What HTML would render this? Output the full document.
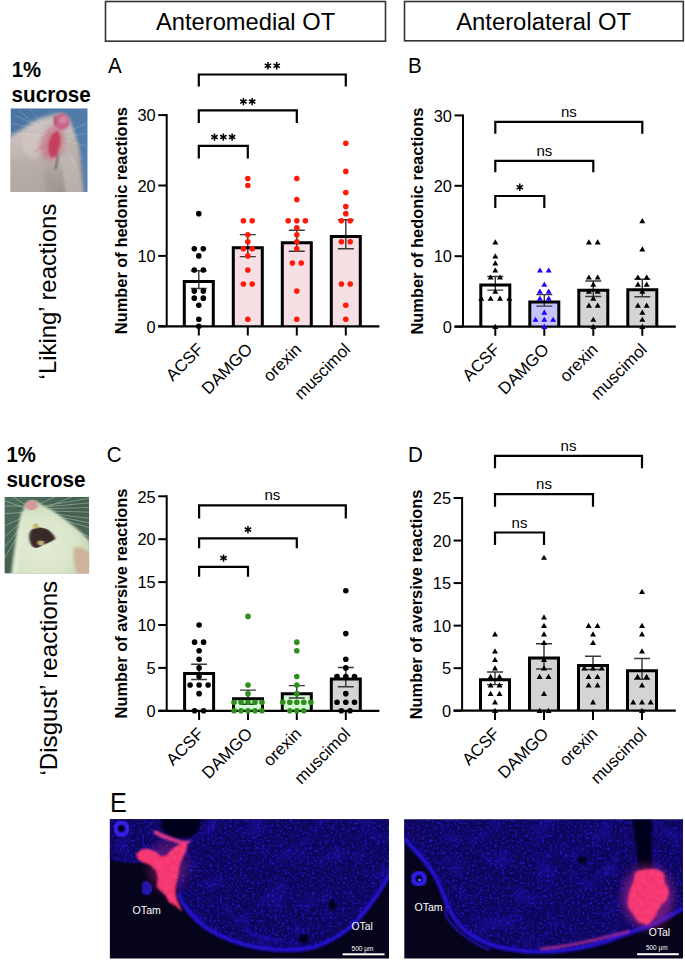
<!DOCTYPE html>
<html><head><meta charset="utf-8"><style>
html,body{margin:0;padding:0;background:#fff;}
body{width:685px;height:960px;overflow:hidden;position:relative;font-family:'Liberation Sans', sans-serif;}
svg{position:absolute;left:0;top:0;}
</style></head><body>
<svg width="685" height="960" viewBox="0 0 685 960" font-family="'Liberation Sans', sans-serif">
<rect width="685" height="960" fill="#fff"/>

<rect x="105.5" y="1.5" width="280" height="39.7" fill="#fff" stroke="#333" stroke-width="1.6"/>
<text x="245.6" y="30" font-size="23.7" text-anchor="middle" fill="#000">Anteromedial OT</text>
<rect x="404.5" y="1.5" width="278.8" height="39.3" fill="#fff" stroke="#333" stroke-width="1.6"/>
<text x="543.6" y="30" font-size="23.85" text-anchor="middle" fill="#000">Anterolateral OT</text>
<text x="11.8" y="77.3" font-size="22.2" font-weight="bold" fill="#000" textLength="29.4" lengthAdjust="spacingAndGlyphs">1%</text>
<text x="11.6" y="101.5" font-size="22.2" font-weight="bold" fill="#000" textLength="79.2" lengthAdjust="spacingAndGlyphs">sucrose</text>
<text x="6.4" y="461.7" font-size="22.2" font-weight="bold" fill="#000" textLength="29.4" lengthAdjust="spacingAndGlyphs">1%</text>
<text x="6.4" y="486.6" font-size="22.2" font-weight="bold" fill="#000" textLength="79.2" lengthAdjust="spacingAndGlyphs">sucrose</text>
<text transform="translate(56.4,379.4) rotate(-90)" font-size="23.9" fill="#000">‘Liking’ reactions</text>
<text transform="translate(57.2,775.5) rotate(-90)" font-size="24.1" fill="#000">‘Disgust’ reactions</text>
<svg x="10.5" y="108.3" width="77.2" height="83.7" viewBox="0 0 100 100" preserveAspectRatio="none">
<defs>
<linearGradient id="p1bg" x1="0" y1="0" x2="1" y2="1"><stop offset="0" stop-color="#4a73a0"/><stop offset="1" stop-color="#5682b2"/></linearGradient>
<linearGradient id="p1fur" x1="0.2" y1="0.2" x2="0.5" y2="1"><stop offset="0" stop-color="#cbc1bd"/><stop offset="0.5" stop-color="#bab0ab"/><stop offset="1" stop-color="#9c948f"/></linearGradient>
<filter id="p1b" x="-20%" y="-20%" width="140%" height="140%"><feGaussianBlur stdDeviation="2.4"/></filter>
<filter id="p1b2" x="-20%" y="-20%" width="140%" height="140%"><feGaussianBlur stdDeviation="1.3"/></filter>
</defs>
<rect width="100" height="100" fill="url(#p1bg)"/>
<g filter="url(#p1b)">
<path d="M-5,36 C5,30 15,26 26,18 C34,13 44,10 54,8 C62,5 72,6 77,14 C82,26 88,40 90.5,54 C92,68 94,84 96,105 L-5,105 Z" fill="url(#p1fur)"/>
<path d="M15,35 C25,28 40,26 50,34 C48,46 42,56 30,60 C20,58 14,48 15,35Z" fill="#d4c8c6" opacity="0.7"/>
<path d="M-5,62 C8,58 24,64 36,74 C44,82 48,92 50,105 L-5,105Z" fill="#b4aca6" opacity="0.7"/>
<path d="M60,58 C66,66 70,82 72,105 L94,105 C92,84 88,66 82,52Z" fill="#c4bcb6" opacity="0.7"/>
<path d="M48,70 C54,72 58,84 58,105 L44,105 C44,90 45,78 48,70Z" fill="#a39b96" opacity="0.6"/>
</g>
<g filter="url(#p1b2)">
<ellipse cx="54" cy="42" rx="15" ry="21" fill="#c87a8c" opacity="0.8" transform="rotate(20 54 42)" filter="url(#p1b)"/>
<ellipse cx="66.4" cy="16" rx="10.5" ry="10" fill="#c8648a"/>
<ellipse cx="68" cy="14" rx="5" ry="4" fill="#d888a4"/>
<path d="M56,9 C58,12 58,16 57,20" stroke="#8a3a50" stroke-width="1.6" fill="none"/>
<path d="M62,27 C66,33 65,43 62,51 C60,56 57,59 53,59 C49,55 48,47 50,39 C52,32 57,27 62,27Z" fill="#c4405e"/>
<path d="M61,55 C61,62 60,68 58,73" stroke="#5a4248" stroke-width="1.6" fill="none"/>
<path d="M30,53 C36,50 42,46 48,42" stroke="#b07080" stroke-width="1.2" fill="none" opacity="0.7"/>
</g>
<g stroke="#f0f0f4" stroke-width="0.5" opacity="0.5" fill="none">
<path d="M45,25 L5,8"/><path d="M45,28 L2,18"/><path d="M46,30 L10,2"/><path d="M48,26 L25,0"/><path d="M44,32 L0,30"/>
<path d="M70,30 L98,18"/><path d="M72,34 L98,30"/><path d="M72,38 L96,45"/><path d="M70,42 L90,60"/><path d="M68,44 L86,70"/>
</g>
</svg>
<svg x="4.4" y="496.8" width="84.8" height="76.8" viewBox="0 0 100 100" preserveAspectRatio="none">
<defs>
<linearGradient id="p2bg" x1="0" y1="0" x2="1" y2="1"><stop offset="0" stop-color="#4e6e5c"/><stop offset="0.5" stop-color="#445f50"/><stop offset="1" stop-color="#52705c"/></linearGradient>
<radialGradient id="p2fur" cx="0.4" cy="0.6" r="0.6"><stop offset="0" stop-color="#e4ecd6"/><stop offset="0.7" stop-color="#d8e4c8"/><stop offset="1" stop-color="#c8d8b4"/></radialGradient>
<filter id="p2b" x="-20%" y="-20%" width="140%" height="140%"><feGaussianBlur stdDeviation="1.6"/></filter>
<filter id="p2b2" x="-20%" y="-20%" width="140%" height="140%"><feGaussianBlur stdDeviation="1.0"/></filter>
</defs>
<rect width="100" height="100" fill="url(#p2bg)"/>
<g stroke="#d0e4d0" stroke-width="1" opacity="0.5" fill="none">
<path d="M35,14 L100,2"/><path d="M38,16 L100,14"/><path d="M40,20 L100,28"/><path d="M42,22 L100,40"/><path d="M40,18 L80,0"/><path d="M36,12 L60,0"/>
<path d="M28,16 L0,5"/><path d="M27,20 L0,22"/><path d="M27,24 L0,38"/><path d="M26,28 L0,52"/><path d="M30,14 L10,0"/><path d="M44,24 L100,52"/><path d="M25,32 L0,66"/><path d="M39,14 L100,8"/><path d="M46,26 L100,60"/><path d="M41,18 L100,20"/><path d="M24,36 L0,80"/><path d="M28,12 L0,12"/><path d="M43,21 L100,34"/>
</g>
<g filter="url(#p2b)">
<path d="M25,10 C28,4 36,3 41,8 C48,14 56,16 62,22 C72,30 80,36 86,42 C92,48 98,54 102,60 L102,102 L8,102 C10,80 13,60 15,45 C18,30 21,18 25,10Z" fill="url(#p2fur)"/>
<path d="M20,20 C16,40 12,70 9,102 L16,102 C18,70 21,40 24,18Z" fill="#e4f0d4" opacity="0.8"/>
<path d="M82,66 C88,64 96,68 102,74 L102,102 L86,102 C82,92 80,78 82,66Z" fill="#cfb49c"/>
</g>
<g filter="url(#p2b2)">
<ellipse cx="32" cy="11" rx="7.5" ry="6.5" fill="#d49a9a"/>
<path d="M30,46 C33,40 40,38 50,42 C56,46 60,52 60,55 C54,60 46,62 40,66 C35,68 31,64 30,58 C29,54 29,50 30,46Z" fill="#3a2a2c"/>
<ellipse cx="37" cy="38" rx="3" ry="3.5" fill="#c8b060"/>
<ellipse cx="43" cy="60" rx="3.5" ry="3" fill="#c8b070"/>
</g>
</svg>
<text transform="translate(108,72.9) scale(0.95,1)" font-size="21.7" fill="#000">A</text>
<path d="M198.8,86.5V74.5H345.8V86.5" stroke="#000" stroke-width="2.2" fill="none" stroke-linecap="butt"/>
<path d="M267.90,62.10L267.90,69.50M264.70,63.95L271.10,67.65M264.70,67.65L271.10,63.95" stroke="#000" stroke-width="1.5" fill="none"/>
<path d="M276.70,62.10L276.70,69.50M273.50,63.95L279.90,67.65M273.50,67.65L279.90,63.95" stroke="#000" stroke-width="1.5" fill="none"/>
<path d="M198.8,123V110.3H296.8V123" stroke="#000" stroke-width="2.2" fill="none" stroke-linecap="butt"/>
<path d="M243.40,97.90L243.40,105.30M240.20,99.75L246.60,103.45M240.20,103.45L246.60,99.75" stroke="#000" stroke-width="1.5" fill="none"/>
<path d="M252.20,97.90L252.20,105.30M249.00,99.75L255.40,103.45M249.00,103.45L255.40,99.75" stroke="#000" stroke-width="1.5" fill="none"/>
<path d="M198.8,158.4V145.8H247.8V158.4" stroke="#000" stroke-width="2.2" fill="none" stroke-linecap="butt"/>
<path d="M214.50,133.40L214.50,140.80M211.30,135.25L217.70,138.95M211.30,138.95L217.70,135.25" stroke="#000" stroke-width="1.5" fill="none"/>
<path d="M223.30,133.40L223.30,140.80M220.10,135.25L226.50,138.95M220.10,138.95L226.50,135.25" stroke="#000" stroke-width="1.5" fill="none"/>
<path d="M232.10,133.40L232.10,140.80M228.90,135.25L235.30,138.95M228.90,138.95L235.30,135.25" stroke="#000" stroke-width="1.5" fill="none"/>
<rect x="184.30" y="281.50" width="29" height="44.80" fill="#fff"/>
<rect x="233.30" y="247.80" width="29" height="78.50" fill="#f6dfe2"/>
<rect x="282.30" y="242.70" width="29" height="83.60" fill="#f6dfe2"/>
<rect x="331.30" y="236.50" width="29" height="89.80" fill="#f6dfe2"/>
<path d="M198.8,270.7V288.5M190.8,270.7H206.8M190.8,288.5H206.8" stroke="#383838" stroke-width="1.45" fill="none"/>
<path d="M247.8,234.6V256.6M239.8,234.6H255.8M239.8,256.6H255.8" stroke="#383838" stroke-width="1.45" fill="none"/>
<path d="M296.8,230.3V251.3M288.8,230.3H304.8M288.8,251.3H304.8" stroke="#383838" stroke-width="1.45" fill="none"/>
<path d="M345.8,219.7V248.8M337.8,219.7H353.8M337.8,248.8H353.8" stroke="#383838" stroke-width="1.45" fill="none"/>
<path d="M184.30,326.3V281.50H213.30V326.3" fill="none" stroke="#000" stroke-width="3"/>
<path d="M233.30,326.3V247.80H262.30V326.3" fill="none" stroke="#000" stroke-width="3"/>
<path d="M282.30,326.3V242.70H311.30V326.3" fill="none" stroke="#000" stroke-width="3"/>
<path d="M331.30,326.3V236.50H360.30V326.3" fill="none" stroke="#000" stroke-width="3"/>
<path d="M166.7,114.10000000000002V326.3" stroke="#000" stroke-width="2" fill="none"/>
<path d="M158.2,326.3H379.4" stroke="#000" stroke-width="2.2" fill="none"/>
<path d="M158.2,326.30H166.7" stroke="#000" stroke-width="2" fill="none"/>
<text transform="translate(155.6,332.50) scale(0.975,1)" font-size="16.8" text-anchor="end" fill="#000">0</text>
<path d="M158.2,255.90H166.7" stroke="#000" stroke-width="2" fill="none"/>
<text transform="translate(155.6,262.10) scale(0.975,1)" font-size="16.8" text-anchor="end" fill="#000">10</text>
<path d="M158.2,185.50H166.7" stroke="#000" stroke-width="2" fill="none"/>
<text transform="translate(155.6,191.70) scale(0.975,1)" font-size="16.8" text-anchor="end" fill="#000">20</text>
<path d="M158.2,115.10H166.7" stroke="#000" stroke-width="2" fill="none"/>
<text transform="translate(155.6,121.30) scale(0.975,1)" font-size="16.8" text-anchor="end" fill="#000">30</text>
<path d="M198.8,326.3V335.5" stroke="#000" stroke-width="2" fill="none"/>
<path d="M247.8,326.3V335.5" stroke="#000" stroke-width="2" fill="none"/>
<path d="M296.8,326.3V335.5" stroke="#000" stroke-width="2" fill="none"/>
<path d="M345.8,326.3V335.5" stroke="#000" stroke-width="2" fill="none"/>
<circle cx="198.80" cy="213.66" r="2.8" fill="#000"/>
<circle cx="194.30" cy="248.86" r="2.8" fill="#000"/>
<circle cx="203.30" cy="248.86" r="2.8" fill="#000"/>
<circle cx="198.80" cy="255.90" r="2.8" fill="#000"/>
<circle cx="194.30" cy="269.98" r="2.8" fill="#000"/>
<circle cx="203.30" cy="269.98" r="2.8" fill="#000"/>
<circle cx="194.30" cy="291.10" r="2.8" fill="#000"/>
<circle cx="203.30" cy="291.10" r="2.8" fill="#000"/>
<circle cx="194.30" cy="298.14" r="2.8" fill="#000"/>
<circle cx="203.30" cy="298.14" r="2.8" fill="#000"/>
<circle cx="198.80" cy="305.18" r="2.8" fill="#000"/>
<circle cx="198.80" cy="319.26" r="2.8" fill="#000"/>
<circle cx="198.80" cy="326.30" r="2.8" fill="#000"/>
<circle cx="247.80" cy="178.46" r="2.8" fill="#ff1a0a"/>
<circle cx="247.80" cy="185.50" r="2.8" fill="#ff1a0a"/>
<circle cx="243.40" cy="220.70" r="2.8" fill="#ff1a0a"/>
<circle cx="252.20" cy="220.70" r="2.8" fill="#ff1a0a"/>
<circle cx="247.80" cy="234.78" r="2.8" fill="#ff1a0a"/>
<circle cx="247.80" cy="241.82" r="2.8" fill="#ff1a0a"/>
<circle cx="243.40" cy="248.86" r="2.8" fill="#ff1a0a"/>
<circle cx="252.20" cy="248.86" r="2.8" fill="#ff1a0a"/>
<circle cx="247.80" cy="255.90" r="2.8" fill="#ff1a0a"/>
<circle cx="247.80" cy="269.98" r="2.8" fill="#ff1a0a"/>
<circle cx="243.40" cy="284.06" r="2.8" fill="#ff1a0a"/>
<circle cx="252.20" cy="284.06" r="2.8" fill="#ff1a0a"/>
<circle cx="247.80" cy="319.26" r="2.8" fill="#ff1a0a"/>
<circle cx="296.80" cy="178.46" r="2.8" fill="#ff1a0a"/>
<circle cx="296.80" cy="199.58" r="2.8" fill="#ff1a0a"/>
<circle cx="288.20" cy="220.70" r="2.8" fill="#ff1a0a"/>
<circle cx="296.80" cy="220.70" r="2.8" fill="#ff1a0a"/>
<circle cx="305.40" cy="220.70" r="2.8" fill="#ff1a0a"/>
<circle cx="296.80" cy="227.74" r="2.8" fill="#ff1a0a"/>
<circle cx="296.80" cy="234.78" r="2.8" fill="#ff1a0a"/>
<circle cx="296.80" cy="241.82" r="2.8" fill="#ff1a0a"/>
<circle cx="296.80" cy="248.86" r="2.8" fill="#ff1a0a"/>
<circle cx="292.40" cy="262.94" r="2.8" fill="#ff1a0a"/>
<circle cx="301.20" cy="262.94" r="2.8" fill="#ff1a0a"/>
<circle cx="296.80" cy="291.10" r="2.8" fill="#ff1a0a"/>
<circle cx="296.80" cy="319.26" r="2.8" fill="#ff1a0a"/>
<circle cx="345.80" cy="143.26" r="2.8" fill="#ff1a0a"/>
<circle cx="345.80" cy="171.42" r="2.8" fill="#ff1a0a"/>
<circle cx="345.80" cy="192.54" r="2.8" fill="#ff1a0a"/>
<circle cx="345.80" cy="206.62" r="2.8" fill="#ff1a0a"/>
<circle cx="345.80" cy="213.66" r="2.8" fill="#ff1a0a"/>
<circle cx="341.40" cy="220.70" r="2.8" fill="#ff1a0a"/>
<circle cx="350.20" cy="220.70" r="2.8" fill="#ff1a0a"/>
<circle cx="341.40" cy="241.82" r="2.8" fill="#ff1a0a"/>
<circle cx="350.20" cy="241.82" r="2.8" fill="#ff1a0a"/>
<circle cx="341.40" cy="284.06" r="2.8" fill="#ff1a0a"/>
<circle cx="350.20" cy="284.06" r="2.8" fill="#ff1a0a"/>
<circle cx="345.80" cy="305.18" r="2.8" fill="#ff1a0a"/>
<circle cx="345.80" cy="319.26" r="2.8" fill="#ff1a0a"/>
<text transform="translate(126.6,220.7) rotate(-90)" font-size="16.42" font-weight="bold" text-anchor="middle" fill="#000">Number of hedonic reactions</text>
<text transform="translate(204.4,350.3) rotate(-45)" font-size="16.8" text-anchor="end" fill="#000">ACSF</text>
<text transform="translate(253.4,350.3) rotate(-45)" font-size="16.8" text-anchor="end" fill="#000">DAMGO</text>
<text transform="translate(302.4,350.3) rotate(-45)" font-size="16.8" text-anchor="end" fill="#000">orexin</text>
<text transform="translate(351.4,350.3) rotate(-45)" font-size="16.8" text-anchor="end" fill="#000">muscimol</text>
<text transform="translate(408,72.9) scale(0.95,1)" font-size="21.7" fill="#000">B</text>
<path d="M495.3,133.75V121.9H642.3V133.75" stroke="#000" stroke-width="2.2" fill="none" stroke-linecap="butt"/>
<text x="568.8" y="117.0" font-size="15" text-anchor="middle" fill="#000">ns</text>
<path d="M495.3,172.25V160.9H593.3V172.25" stroke="#000" stroke-width="2.2" fill="none" stroke-linecap="butt"/>
<text x="544.3" y="156.0" font-size="15" text-anchor="middle" fill="#000">ns</text>
<path d="M495.3,208V196H544.3V208" stroke="#000" stroke-width="2.2" fill="none" stroke-linecap="butt"/>
<path d="M519.80,183.60L519.80,191.00M516.60,185.45L523.00,189.15M516.60,189.15L523.00,185.45" stroke="#000" stroke-width="1.5" fill="none"/>
<rect x="480.80" y="285.00" width="29" height="41.60" fill="#fff"/>
<rect x="529.80" y="301.90" width="29" height="24.70" fill="#c4c4fc"/>
<rect x="578.80" y="290.30" width="29" height="36.30" fill="#d4d4d4"/>
<rect x="627.80" y="289.80" width="29" height="36.80" fill="#d4d4d4"/>
<path d="M495.3,276.4V290.1M487.3,276.4H503.3M487.3,290.1H503.3" stroke="#383838" stroke-width="1.45" fill="none"/>
<path d="M544.3,294.6V306.1M536.3,294.6H552.3M536.3,306.1H552.3" stroke="#383838" stroke-width="1.45" fill="none"/>
<path d="M593.3,281V296.4M585.3,281H601.3M585.3,296.4H601.3" stroke="#383838" stroke-width="1.45" fill="none"/>
<path d="M642.3,279.3V296.8M634.3,279.3H650.3M634.3,296.8H650.3" stroke="#383838" stroke-width="1.45" fill="none"/>
<path d="M480.80,326.6V285.00H509.80V326.6" fill="none" stroke="#000" stroke-width="3"/>
<path d="M529.80,326.6V301.90H558.80V326.6" fill="none" stroke="#000" stroke-width="3"/>
<path d="M578.80,326.6V290.30H607.80V326.6" fill="none" stroke="#000" stroke-width="3"/>
<path d="M627.80,326.6V289.80H656.80V326.6" fill="none" stroke="#000" stroke-width="3"/>
<path d="M463,114.40000000000003V326.6" stroke="#000" stroke-width="2" fill="none"/>
<path d="M454.5,326.6H675.8" stroke="#000" stroke-width="2.2" fill="none"/>
<path d="M454.5,326.60H463" stroke="#000" stroke-width="2" fill="none"/>
<text transform="translate(451.9,332.80) scale(0.975,1)" font-size="16.8" text-anchor="end" fill="#000">0</text>
<path d="M454.5,256.20H463" stroke="#000" stroke-width="2" fill="none"/>
<text transform="translate(451.9,262.40) scale(0.975,1)" font-size="16.8" text-anchor="end" fill="#000">10</text>
<path d="M454.5,185.80H463" stroke="#000" stroke-width="2" fill="none"/>
<text transform="translate(451.9,192.00) scale(0.975,1)" font-size="16.8" text-anchor="end" fill="#000">20</text>
<path d="M454.5,115.40H463" stroke="#000" stroke-width="2" fill="none"/>
<text transform="translate(451.9,121.60) scale(0.975,1)" font-size="16.8" text-anchor="end" fill="#000">30</text>
<path d="M495.3,326.6V335.8" stroke="#000" stroke-width="2" fill="none"/>
<path d="M544.3,326.6V335.8" stroke="#000" stroke-width="2" fill="none"/>
<path d="M593.3,326.6V335.8" stroke="#000" stroke-width="2" fill="none"/>
<path d="M642.3,326.6V335.8" stroke="#000" stroke-width="2" fill="none"/>
<path d="M495.30,239.22L498.30,244.42L492.30,244.42Z" fill="#000"/>
<path d="M495.30,253.30L498.30,258.50L492.30,258.50Z" fill="#000"/>
<path d="M495.30,260.34L498.30,265.54L492.30,265.54Z" fill="#000"/>
<path d="M495.30,267.38L498.30,272.58L492.30,272.58Z" fill="#000"/>
<path d="M490.60,274.42L493.60,279.62L487.60,279.62Z" fill="#000"/>
<path d="M500.00,274.42L503.00,279.62L497.00,279.62Z" fill="#000"/>
<path d="M495.30,288.50L498.30,293.70L492.30,293.70Z" fill="#000"/>
<path d="M481.30,295.54L484.30,300.74L478.30,300.74Z" fill="#000"/>
<path d="M490.60,295.54L493.60,300.74L487.60,300.74Z" fill="#000"/>
<path d="M500.00,295.54L503.00,300.74L497.00,300.74Z" fill="#000"/>
<path d="M509.30,295.54L512.30,300.74L506.30,300.74Z" fill="#000"/>
<path d="M495.30,323.70L498.30,328.90L492.30,328.90Z" fill="#000"/>
<path d="M539.90,267.38L542.90,272.58L536.90,272.58Z" fill="#2200ff"/>
<path d="M548.70,267.38L551.70,272.58L545.70,272.58Z" fill="#2200ff"/>
<path d="M544.30,281.46L547.30,286.66L541.30,286.66Z" fill="#2200ff"/>
<path d="M539.90,288.50L542.90,293.70L536.90,293.70Z" fill="#2200ff"/>
<path d="M548.70,288.50L551.70,293.70L545.70,293.70Z" fill="#2200ff"/>
<path d="M539.90,295.54L542.90,300.74L536.90,300.74Z" fill="#2200ff"/>
<path d="M548.70,295.54L551.70,300.74L545.70,300.74Z" fill="#2200ff"/>
<path d="M544.30,309.62L547.30,314.82L541.30,314.82Z" fill="#2200ff"/>
<path d="M535.50,316.66L538.50,321.86L532.50,321.86Z" fill="#2200ff"/>
<path d="M544.30,316.66L547.30,321.86L541.30,321.86Z" fill="#2200ff"/>
<path d="M553.10,316.66L556.10,321.86L550.10,321.86Z" fill="#2200ff"/>
<path d="M544.30,323.70L547.30,328.90L541.30,328.90Z" fill="#2200ff"/>
<path d="M588.90,239.22L591.90,244.42L585.90,244.42Z" fill="#000"/>
<path d="M597.70,239.22L600.70,244.42L594.70,244.42Z" fill="#000"/>
<path d="M588.90,274.42L591.90,279.62L585.90,279.62Z" fill="#000"/>
<path d="M597.70,274.42L600.70,279.62L594.70,279.62Z" fill="#000"/>
<path d="M593.30,281.46L596.30,286.66L590.30,286.66Z" fill="#000"/>
<path d="M588.90,288.50L591.90,293.70L585.90,293.70Z" fill="#000"/>
<path d="M597.70,288.50L600.70,293.70L594.70,293.70Z" fill="#000"/>
<path d="M593.30,295.54L596.30,300.74L590.30,300.74Z" fill="#000"/>
<path d="M588.90,302.58L591.90,307.78L585.90,307.78Z" fill="#000"/>
<path d="M597.70,302.58L600.70,307.78L594.70,307.78Z" fill="#000"/>
<path d="M593.30,316.66L596.30,321.86L590.30,321.86Z" fill="#000"/>
<path d="M593.30,323.70L596.30,328.90L590.30,328.90Z" fill="#000"/>
<path d="M642.30,218.10L645.30,223.30L639.30,223.30Z" fill="#000"/>
<path d="M642.30,246.26L645.30,251.46L639.30,251.46Z" fill="#000"/>
<path d="M637.90,274.42L640.90,279.62L634.90,279.62Z" fill="#000"/>
<path d="M646.70,274.42L649.70,279.62L643.70,279.62Z" fill="#000"/>
<path d="M637.90,281.46L640.90,286.66L634.90,286.66Z" fill="#000"/>
<path d="M646.70,281.46L649.70,286.66L643.70,286.66Z" fill="#000"/>
<path d="M642.30,288.50L645.30,293.70L639.30,293.70Z" fill="#000"/>
<path d="M637.90,302.58L640.90,307.78L634.90,307.78Z" fill="#000"/>
<path d="M646.70,302.58L649.70,307.78L643.70,307.78Z" fill="#000"/>
<path d="M642.30,309.62L645.30,314.82L639.30,314.82Z" fill="#000"/>
<path d="M642.30,316.66L645.30,321.86L639.30,321.86Z" fill="#000"/>
<path d="M642.30,323.70L645.30,328.90L639.30,328.90Z" fill="#000"/>
<text transform="translate(422.9,221.0) rotate(-90)" font-size="16.42" font-weight="bold" text-anchor="middle" fill="#000">Number of hedonic reactions</text>
<text transform="translate(500.9,350.6) rotate(-45)" font-size="16.8" text-anchor="end" fill="#000">ACSF</text>
<text transform="translate(549.9,350.6) rotate(-45)" font-size="16.8" text-anchor="end" fill="#000">DAMGO</text>
<text transform="translate(598.9,350.6) rotate(-45)" font-size="16.8" text-anchor="end" fill="#000">orexin</text>
<text transform="translate(647.9,350.6) rotate(-45)" font-size="16.8" text-anchor="end" fill="#000">muscimol</text>
<text transform="translate(106.7,461.6) scale(0.95,1)" font-size="21.7" fill="#000">C</text>
<path d="M199.1,518.5V505.3H345.8V518.5" stroke="#000" stroke-width="2.2" fill="none" stroke-linecap="butt"/>
<text x="272.4" y="500.4" font-size="15" text-anchor="middle" fill="#000">ns</text>
<path d="M199.1,548.2V538.3H296.8V548.2" stroke="#000" stroke-width="2.2" fill="none" stroke-linecap="butt"/>
<path d="M247.95,525.90L247.95,533.30M244.75,527.75L251.15,531.45M244.75,531.45L251.15,527.75" stroke="#000" stroke-width="1.5" fill="none"/>
<path d="M199.1,576.8V566.8H248V576.8" stroke="#000" stroke-width="2.2" fill="none" stroke-linecap="butt"/>
<path d="M223.55,554.40L223.55,561.80M220.35,556.25L226.75,559.95M220.35,559.95L226.75,556.25" stroke="#000" stroke-width="1.5" fill="none"/>
<rect x="184.60" y="673.50" width="29" height="37.30" fill="#fff"/>
<rect x="233.50" y="698.80" width="29" height="12.00" fill="#d2fad2"/>
<rect x="282.30" y="693.70" width="29" height="17.10" fill="#d2fad2"/>
<rect x="331.30" y="679.00" width="29" height="31.80" fill="#d4d4d4"/>
<path d="M199.1,664.2V679.5M191.1,664.2H207.1M191.1,679.5H207.1" stroke="#383838" stroke-width="1.45" fill="none"/>
<path d="M248,690.1V704.2M240,690.1H256M240,704.2H256" stroke="#383838" stroke-width="1.45" fill="none"/>
<path d="M296.8,685.6V698M288.8,685.6H304.8M288.8,698H304.8" stroke="#383838" stroke-width="1.45" fill="none"/>
<path d="M345.8,667.5V686.7M337.8,667.5H353.8M337.8,686.7H353.8" stroke="#383838" stroke-width="1.45" fill="none"/>
<path d="M184.60,710.8V673.50H213.60V710.8" fill="none" stroke="#000" stroke-width="3"/>
<path d="M233.50,710.8V698.80H262.50V710.8" fill="none" stroke="#000" stroke-width="3"/>
<path d="M282.30,710.8V693.70H311.30V710.8" fill="none" stroke="#000" stroke-width="3"/>
<path d="M331.30,710.8V679.00H360.30V710.8" fill="none" stroke="#000" stroke-width="3"/>
<path d="M166.7,495.29999999999995V710.8" stroke="#000" stroke-width="2" fill="none"/>
<path d="M158.2,710.8H379.4" stroke="#000" stroke-width="2.2" fill="none"/>
<path d="M158.2,710.80H166.7" stroke="#000" stroke-width="2" fill="none"/>
<text transform="translate(155.6,717.00) scale(0.975,1)" font-size="16.8" text-anchor="end" fill="#000">0</text>
<path d="M158.2,667.90H166.7" stroke="#000" stroke-width="2" fill="none"/>
<text transform="translate(155.6,674.10) scale(0.975,1)" font-size="16.8" text-anchor="end" fill="#000">5</text>
<path d="M158.2,625.00H166.7" stroke="#000" stroke-width="2" fill="none"/>
<text transform="translate(155.6,631.20) scale(0.975,1)" font-size="16.8" text-anchor="end" fill="#000">10</text>
<path d="M158.2,582.10H166.7" stroke="#000" stroke-width="2" fill="none"/>
<text transform="translate(155.6,588.30) scale(0.975,1)" font-size="16.8" text-anchor="end" fill="#000">15</text>
<path d="M158.2,539.20H166.7" stroke="#000" stroke-width="2" fill="none"/>
<text transform="translate(155.6,545.40) scale(0.975,1)" font-size="16.8" text-anchor="end" fill="#000">20</text>
<path d="M158.2,496.30H166.7" stroke="#000" stroke-width="2" fill="none"/>
<text transform="translate(155.6,502.50) scale(0.975,1)" font-size="16.8" text-anchor="end" fill="#000">25</text>
<path d="M199.1,710.8V720.0" stroke="#000" stroke-width="2" fill="none"/>
<path d="M248,710.8V720.0" stroke="#000" stroke-width="2" fill="none"/>
<path d="M296.8,710.8V720.0" stroke="#000" stroke-width="2" fill="none"/>
<path d="M345.8,710.8V720.0" stroke="#000" stroke-width="2" fill="none"/>
<circle cx="199.10" cy="625.00" r="2.8" fill="#000"/>
<circle cx="194.60" cy="642.16" r="2.8" fill="#000"/>
<circle cx="203.60" cy="642.16" r="2.8" fill="#000"/>
<circle cx="199.10" cy="650.74" r="2.8" fill="#000"/>
<circle cx="199.10" cy="659.32" r="2.8" fill="#000"/>
<circle cx="199.10" cy="667.90" r="2.8" fill="#000"/>
<circle cx="199.10" cy="676.48" r="2.8" fill="#000"/>
<circle cx="190.10" cy="685.06" r="2.8" fill="#000"/>
<circle cx="199.10" cy="685.06" r="2.8" fill="#000"/>
<circle cx="208.10" cy="685.06" r="2.8" fill="#000"/>
<circle cx="199.10" cy="693.64" r="2.8" fill="#000"/>
<circle cx="194.60" cy="710.80" r="2.8" fill="#000"/>
<circle cx="203.60" cy="710.80" r="2.8" fill="#000"/>
<circle cx="248.00" cy="616.42" r="2.8" fill="#2e8f1e"/>
<circle cx="248.00" cy="685.06" r="2.8" fill="#2e8f1e"/>
<circle cx="248.00" cy="693.64" r="2.8" fill="#2e8f1e"/>
<circle cx="234.00" cy="702.22" r="2.8" fill="#2e8f1e"/>
<circle cx="241.00" cy="702.22" r="2.8" fill="#2e8f1e"/>
<circle cx="248.00" cy="702.22" r="2.8" fill="#2e8f1e"/>
<circle cx="255.00" cy="702.22" r="2.8" fill="#2e8f1e"/>
<circle cx="262.00" cy="702.22" r="2.8" fill="#2e8f1e"/>
<circle cx="234.00" cy="710.80" r="2.8" fill="#2e8f1e"/>
<circle cx="241.00" cy="710.80" r="2.8" fill="#2e8f1e"/>
<circle cx="248.00" cy="710.80" r="2.8" fill="#2e8f1e"/>
<circle cx="255.00" cy="710.80" r="2.8" fill="#2e8f1e"/>
<circle cx="262.00" cy="710.80" r="2.8" fill="#2e8f1e"/>
<circle cx="296.80" cy="642.16" r="2.8" fill="#2e8f1e"/>
<circle cx="296.80" cy="650.74" r="2.8" fill="#2e8f1e"/>
<circle cx="296.80" cy="676.48" r="2.8" fill="#2e8f1e"/>
<circle cx="296.80" cy="685.06" r="2.8" fill="#2e8f1e"/>
<circle cx="296.80" cy="693.64" r="2.8" fill="#2e8f1e"/>
<circle cx="282.80" cy="702.22" r="2.8" fill="#2e8f1e"/>
<circle cx="289.80" cy="702.22" r="2.8" fill="#2e8f1e"/>
<circle cx="296.80" cy="702.22" r="2.8" fill="#2e8f1e"/>
<circle cx="303.80" cy="702.22" r="2.8" fill="#2e8f1e"/>
<circle cx="310.80" cy="702.22" r="2.8" fill="#2e8f1e"/>
<circle cx="289.80" cy="710.80" r="2.8" fill="#2e8f1e"/>
<circle cx="296.80" cy="710.80" r="2.8" fill="#2e8f1e"/>
<circle cx="303.80" cy="710.80" r="2.8" fill="#2e8f1e"/>
<circle cx="345.80" cy="590.68" r="2.8" fill="#000"/>
<circle cx="345.80" cy="633.58" r="2.8" fill="#000"/>
<circle cx="345.80" cy="659.32" r="2.8" fill="#000"/>
<circle cx="345.80" cy="667.90" r="2.8" fill="#000"/>
<circle cx="337.00" cy="676.48" r="2.8" fill="#000"/>
<circle cx="345.80" cy="676.48" r="2.8" fill="#000"/>
<circle cx="354.50" cy="676.48" r="2.8" fill="#000"/>
<circle cx="345.80" cy="693.64" r="2.8" fill="#000"/>
<circle cx="337.00" cy="702.22" r="2.8" fill="#000"/>
<circle cx="345.80" cy="702.22" r="2.8" fill="#000"/>
<circle cx="354.50" cy="702.22" r="2.8" fill="#000"/>
<circle cx="341.30" cy="710.80" r="2.8" fill="#000"/>
<circle cx="350.00" cy="710.80" r="2.8" fill="#000"/>
<text transform="translate(126.6,603.5) rotate(-90)" font-size="16.42" font-weight="bold" text-anchor="middle" fill="#000">Number of aversive reactions</text>
<text transform="translate(204.7,734.8) rotate(-45)" font-size="16.8" text-anchor="end" fill="#000">ACSF</text>
<text transform="translate(253.6,734.8) rotate(-45)" font-size="16.8" text-anchor="end" fill="#000">DAMGO</text>
<text transform="translate(302.4,734.8) rotate(-45)" font-size="16.8" text-anchor="end" fill="#000">orexin</text>
<text transform="translate(351.4,734.8) rotate(-45)" font-size="16.8" text-anchor="end" fill="#000">muscimol</text>
<text transform="translate(408,461.6) scale(0.95,1)" font-size="21.7" fill="#000">D</text>
<path d="M495,468.3V455.8H642V468.3" stroke="#000" stroke-width="2.2" fill="none" stroke-linecap="butt"/>
<text x="568.5" y="450.9" font-size="15" text-anchor="middle" fill="#000">ns</text>
<path d="M495,506.7V494.2H593V506.7" stroke="#000" stroke-width="2.2" fill="none" stroke-linecap="butt"/>
<text x="544.0" y="489.3" font-size="15" text-anchor="middle" fill="#000">ns</text>
<path d="M495,545V532.5H544V545" stroke="#000" stroke-width="2.2" fill="none" stroke-linecap="butt"/>
<text x="519.5" y="527.6" font-size="15" text-anchor="middle" fill="#000">ns</text>
<rect x="480.50" y="679.80" width="29" height="30.90" fill="#fff"/>
<rect x="529.50" y="658.10" width="29" height="52.60" fill="#d4d4d4"/>
<rect x="578.50" y="665.40" width="29" height="45.30" fill="#d4d4d4"/>
<rect x="627.50" y="670.80" width="29" height="39.90" fill="#d4d4d4"/>
<path d="M495,671.9V684.6M487,671.9H503M487,684.6H503" stroke="#383838" stroke-width="1.45" fill="none"/>
<path d="M544,643.8V668.9M536,643.8H552M536,668.9H552" stroke="#383838" stroke-width="1.45" fill="none"/>
<path d="M593,656.2V669.5M585,656.2H601M585,669.5H601" stroke="#383838" stroke-width="1.45" fill="none"/>
<path d="M642,658.5V679.3M634,658.5H650M634,679.3H650" stroke="#383838" stroke-width="1.45" fill="none"/>
<path d="M480.50,710.7V679.80H509.50V710.7" fill="none" stroke="#000" stroke-width="3"/>
<path d="M529.50,710.7V658.10H558.50V710.7" fill="none" stroke="#000" stroke-width="3"/>
<path d="M578.50,710.7V665.40H607.50V710.7" fill="none" stroke="#000" stroke-width="3"/>
<path d="M627.50,710.7V670.80H656.50V710.7" fill="none" stroke="#000" stroke-width="3"/>
<path d="M462.1,497.00000000000006V710.7" stroke="#000" stroke-width="2" fill="none"/>
<path d="M453.6,710.7H675.8" stroke="#000" stroke-width="2.2" fill="none"/>
<path d="M453.6,710.70H462.1" stroke="#000" stroke-width="2" fill="none"/>
<text transform="translate(451.0,716.90) scale(0.975,1)" font-size="16.8" text-anchor="end" fill="#000">0</text>
<path d="M453.6,668.16H462.1" stroke="#000" stroke-width="2" fill="none"/>
<text transform="translate(451.0,674.36) scale(0.975,1)" font-size="16.8" text-anchor="end" fill="#000">5</text>
<path d="M453.6,625.62H462.1" stroke="#000" stroke-width="2" fill="none"/>
<text transform="translate(451.0,631.82) scale(0.975,1)" font-size="16.8" text-anchor="end" fill="#000">10</text>
<path d="M453.6,583.08H462.1" stroke="#000" stroke-width="2" fill="none"/>
<text transform="translate(451.0,589.28) scale(0.975,1)" font-size="16.8" text-anchor="end" fill="#000">15</text>
<path d="M453.6,540.54H462.1" stroke="#000" stroke-width="2" fill="none"/>
<text transform="translate(451.0,546.74) scale(0.975,1)" font-size="16.8" text-anchor="end" fill="#000">20</text>
<path d="M453.6,498.00H462.1" stroke="#000" stroke-width="2" fill="none"/>
<text transform="translate(451.0,504.20) scale(0.975,1)" font-size="16.8" text-anchor="end" fill="#000">25</text>
<path d="M495,710.7V719.9000000000001" stroke="#000" stroke-width="2" fill="none"/>
<path d="M544,710.7V719.9000000000001" stroke="#000" stroke-width="2" fill="none"/>
<path d="M593,710.7V719.9000000000001" stroke="#000" stroke-width="2" fill="none"/>
<path d="M642,710.7V719.9000000000001" stroke="#000" stroke-width="2" fill="none"/>
<path d="M495.00,631.23L498.00,636.43L492.00,636.43Z" fill="#000"/>
<path d="M495.00,648.24L498.00,653.44L492.00,653.44Z" fill="#000"/>
<path d="M495.00,656.75L498.00,661.95L492.00,661.95Z" fill="#000"/>
<path d="M495.00,665.26L498.00,670.46L492.00,670.46Z" fill="#000"/>
<path d="M490.60,673.77L493.60,678.97L487.60,678.97Z" fill="#000"/>
<path d="M499.50,673.77L502.50,678.97L496.50,678.97Z" fill="#000"/>
<path d="M490.60,682.28L493.60,687.48L487.60,687.48Z" fill="#000"/>
<path d="M499.50,682.28L502.50,687.48L496.50,687.48Z" fill="#000"/>
<path d="M490.60,690.78L493.60,695.98L487.60,695.98Z" fill="#000"/>
<path d="M499.50,690.78L502.50,695.98L496.50,695.98Z" fill="#000"/>
<path d="M495.00,699.29L498.00,704.49L492.00,704.49Z" fill="#000"/>
<path d="M495.00,707.80L498.00,713.00L492.00,713.00Z" fill="#000"/>
<path d="M544.00,554.66L547.00,559.86L541.00,559.86Z" fill="#000"/>
<path d="M544.00,614.21L547.00,619.41L541.00,619.41Z" fill="#000"/>
<path d="M544.00,622.72L547.00,627.92L541.00,627.92Z" fill="#000"/>
<path d="M544.00,631.23L547.00,636.43L541.00,636.43Z" fill="#000"/>
<path d="M544.00,639.74L547.00,644.94L541.00,644.94Z" fill="#000"/>
<path d="M544.00,656.75L547.00,661.95L541.00,661.95Z" fill="#000"/>
<path d="M544.00,665.26L547.00,670.46L541.00,670.46Z" fill="#000"/>
<path d="M539.60,673.77L542.60,678.97L536.60,678.97Z" fill="#000"/>
<path d="M548.50,673.77L551.50,678.97L545.50,678.97Z" fill="#000"/>
<path d="M544.00,690.78L547.00,695.98L541.00,695.98Z" fill="#000"/>
<path d="M539.60,707.80L542.60,713.00L536.60,713.00Z" fill="#000"/>
<path d="M548.50,707.80L551.50,713.00L545.50,713.00Z" fill="#000"/>
<path d="M588.60,622.72L591.60,627.92L585.60,627.92Z" fill="#000"/>
<path d="M597.50,622.72L600.50,627.92L594.50,627.92Z" fill="#000"/>
<path d="M593.00,631.23L596.00,636.43L590.00,636.43Z" fill="#000"/>
<path d="M593.00,639.74L596.00,644.94L590.00,644.94Z" fill="#000"/>
<path d="M584.30,665.26L587.30,670.46L581.30,670.46Z" fill="#000"/>
<path d="M593.00,665.26L596.00,670.46L590.00,670.46Z" fill="#000"/>
<path d="M601.80,665.26L604.80,670.46L598.80,670.46Z" fill="#000"/>
<path d="M588.60,673.77L591.60,678.97L585.60,678.97Z" fill="#000"/>
<path d="M597.50,673.77L600.50,678.97L594.50,678.97Z" fill="#000"/>
<path d="M588.60,682.28L591.60,687.48L585.60,687.48Z" fill="#000"/>
<path d="M597.50,682.28L600.50,687.48L594.50,687.48Z" fill="#000"/>
<path d="M593.00,699.29L596.00,704.49L590.00,704.49Z" fill="#000"/>
<path d="M642.00,588.69L645.00,593.89L639.00,593.89Z" fill="#000"/>
<path d="M642.00,622.72L645.00,627.92L639.00,627.92Z" fill="#000"/>
<path d="M642.00,631.23L645.00,636.43L639.00,636.43Z" fill="#000"/>
<path d="M642.00,648.24L645.00,653.44L639.00,653.44Z" fill="#000"/>
<path d="M637.60,673.77L640.60,678.97L634.60,678.97Z" fill="#000"/>
<path d="M646.60,673.77L649.60,678.97L643.60,678.97Z" fill="#000"/>
<path d="M642.00,682.28L645.00,687.48L639.00,687.48Z" fill="#000"/>
<path d="M633.20,699.29L636.20,704.49L630.20,704.49Z" fill="#000"/>
<path d="M642.00,699.29L645.00,704.49L639.00,704.49Z" fill="#000"/>
<path d="M650.70,699.29L653.70,704.49L647.70,704.49Z" fill="#000"/>
<path d="M642.00,707.80L645.00,713.00L639.00,713.00Z" fill="#000"/>
<text transform="translate(422.0,604.4) rotate(-90)" font-size="16.42" font-weight="bold" text-anchor="middle" fill="#000">Number of aversive reactions</text>
<text transform="translate(500.6,734.7) rotate(-45)" font-size="16.8" text-anchor="end" fill="#000">ACSF</text>
<text transform="translate(549.6,734.7) rotate(-45)" font-size="16.8" text-anchor="end" fill="#000">DAMGO</text>
<text transform="translate(598.6,734.7) rotate(-45)" font-size="16.8" text-anchor="end" fill="#000">orexin</text>
<text transform="translate(647.6,734.7) rotate(-45)" font-size="16.8" text-anchor="end" fill="#000">muscimol</text>
<text transform="translate(109.9,811.6) scale(0.925,1)" font-size="27.2" fill="#000">E</text>
<defs>
<filter id="speck" x="0" y="0" width="100%" height="100%" color-interpolation-filters="sRGB">
<feTurbulence type="fractalNoise" baseFrequency="0.4" numOctaves="2" seed="4" result="n"/>
<feColorMatrix in="n" type="matrix" values="0 0 0 0 0.15  0 0 0 0 0.09  0 0 0 0 0.85  0 0 0 3.0 -1.53" result="c"/>
<feTurbulence type="fractalNoise" baseFrequency="0.045" numOctaves="2" seed="7" result="n2"/>
<feColorMatrix in="n2" type="matrix" values="0 0 0 0 0.12  0 0 0 0 0.07  0 0 0 0 0.7  0 0 0 1.5 -0.75" result="c2"/>
<feComposite in="c2" in2="SourceAlpha" operator="in" result="d2"/>
<feComposite in="c" in2="SourceAlpha" operator="in" result="d"/>
<feMerge><feMergeNode in="SourceGraphic"/><feMergeNode in="d2"/><feMergeNode in="d"/></feMerge>
</filter>
<filter id="mb1" x="-10%" y="-10%" width="120%" height="120%"><feGaussianBlur stdDeviation="1.2"/></filter>
<filter id="mb2" x="-10%" y="-10%" width="120%" height="120%"><feGaussianBlur stdDeviation="2.2"/></filter>
<filter id="mb4" x="-30%" y="-30%" width="160%" height="160%"><feGaussianBlur stdDeviation="4"/></filter>
<filter id="pinkf" x="-20%" y="-20%" width="140%" height="140%" color-interpolation-filters="sRGB">
<feTurbulence type="fractalNoise" baseFrequency="0.5" numOctaves="2" seed="9" result="n"/>
<feColorMatrix in="n" type="matrix" values="0 0 0 0 1  0 0 0 0 0.45  0 0 0 0 0.65  0 0 0 2 -0.9" result="c"/>
<feComposite in="c" in2="SourceAlpha" operator="in" result="d"/>
<feMerge><feMergeNode in="SourceGraphic"/><feMergeNode in="d"/></feMerge>
<feGaussianBlur stdDeviation="1.1"/>
</filter>
</defs>
<svg x="109.9" y="819.3" width="279.1" height="139.2" viewBox="109.9 819.3 279.1 139.2">
<rect x="100" y="810" width="300" height="160" fill="#06041a"/>
<g filter="url(#speck)">
<path d="M105,815 L395,815 L390,874 C380,892 370,906 358,920 C345,934 330,942 315,947 C300,951 280,951 260,948 C240,945 222,938 206,928 C192,918 183,906 178,894 C175,884 175,874 176,866 C170,862 162,860 152,862 C142,864 130,863 120,862 C114,861 110,860 105,858Z" fill="#0d0659"/>
<path d="M143,882 C148,880 152,884 152,890 C150,896 145,896 142,892Z" fill="#1c10a0"/>
</g>
<path d="M178,894 C183,906 192,918 206,928 C222,938 240,945 260,948 C280,951 300,951 315,947 C330,942 345,934 358,920 C370,906 380,892 390,874" stroke="#2c18f4" stroke-width="4" fill="none" filter="url(#mb1)" opacity="0.8"/>
<path d="M246,930 C256,936 270,940 285,941" stroke="#2412c8" stroke-width="3" fill="none" filter="url(#mb1)" opacity="0.6"/>
<path d="M161,815 L201,815 C201,826 199,832 193,836 C188,839 180,839.5 174,838 C168,836 163,832 161.5,826 Z" fill="#06041a" filter="url(#mb1)"/>
<ellipse cx="303.5" cy="938.5" rx="5" ry="4.5" fill="#06041a" filter="url(#mb1)"/>
<ellipse cx="332" cy="904.6" rx="3.5" ry="5.5" fill="#06041a" filter="url(#mb1)"/>
<circle cx="121.5" cy="828.6" r="6.2" stroke="#3a26ff" stroke-width="3.6" fill="#06041a" filter="url(#mb1)"/>
<path d="M143,882 C148,880 152,884 152,890 C150,896 145,896 142,892Z" fill="#2414b0" filter="url(#mb1)"/>
<ellipse cx="168" cy="866" rx="20" ry="26" fill="#c02a8a" opacity="0.35" filter="url(#mb4)"/>
<g filter="url(#pinkf)">
<path d="M154,830 C162,833 170,837 178,839.5 C183,840.8 188,841 191,840.5 C190,843.5 187,844.5 182,844 C174,842.5 164,839 156,835 C153.5,833.5 153,831.5 154,830Z" fill="#e0328a"/>
<path d="M139.2,850.8 C142,849.5 145,848.6 146.9,848.6 C150,849.5 153,850.5 155.7,851.8 C158,853.5 159.5,855 161.1,856.2 C163,856 165,855.6 166.6,855.1 C169,852.5 171.5,849.5 174.3,847.5 C177,845.5 179.5,843.8 181.9,843.1 C184,843 186,843.5 187.4,844.2 C187.2,846.5 186.8,848.6 186.3,850.8 C185.2,853 184,855 183,857.3 C181.6,860 180.5,862.5 179.7,865 C179.2,868 178.9,871 178.7,873.7 C178,876.5 177.2,879.5 176.5,882.5 C176,885 175.6,887.5 175.4,890.2 C175.6,892.8 176,895.3 176.5,897.8 C177.5,900.5 178.5,903 179.7,905.5 C180.5,907.8 181.2,910 181.9,912.1 C180,910.5 178.2,908.5 176.5,906.6 C174,905 171.3,903.6 168.8,902.2 C167.5,900 166.5,897.8 165.5,895.6 C164,894 162.6,892.7 161.1,891.3 C159.6,889.8 158.2,888.4 156.8,886.9 C157,884 157.4,881 157.8,878.1 C157.2,875.5 156.5,873 155.7,870.5 C154,868.5 152,866.7 150.2,865 C148,864.2 145.8,863.5 143.6,862.8 C141.7,861.7 139.9,860.6 138.1,859.5 C137.3,858 136.6,856.5 136,855.1 C137,853.6 138.1,852.2 139.2,850.8Z" fill="#f4306c"/>
</g>
<text x="132.6" y="914.3" font-size="10.6" fill="#fff">OTam</text>
<text x="351.5" y="930.4" font-size="10.4" fill="#fff">OTal</text>
<text x="351.6" y="950.8" font-size="6.5" fill="#fff">500 μm</text>
<rect x="342.6" y="953.3" width="41.9" height="2" fill="#fff"/>
</svg>
<svg x="404.3" y="819.5" width="278.7" height="139" viewBox="404.3 819.5 278.7 139">
<rect x="400" y="810" width="290" height="160" fill="#06041a"/>
<g filter="url(#speck)">
<path d="M404,819 L684,819 L684,908 C670,916 660,922 650,926 C635,931 620,936 605,942 C585,948 565,951 545,952 C525,952 505,950 488,944 C476,939 468,934 460,926 C453,918 449,910 446,902 C443,894 440,886 436,878 C430,868 424,860 416,852 C411,846 407,842 404,838Z" fill="#0d0659"/>
</g>
<path d="M404,838 C407,842 411,846 416,852 C424,860 430,868 436,878 C440,886 443,894 446,902 C449,910 453,918 460,926 C468,934 476,939 488,944 C505,950 525,952 545,952 C565,951 585,948 605,942 C620,936 635,931 650,926 C660,922 670,916 684,908" stroke="#2c18f4" stroke-width="4" fill="none" filter="url(#mb1)" opacity="0.8"/>
<path d="M448,905 C444,910 445,916 450,922 C456,930 464,936 472,941 C478,945 484,948 490,950" stroke="#2a16e0" stroke-width="1.8" fill="none" filter="url(#mb1)"/>
<path d="M632,819 L652,819 C651,835 651,852 653,868 C650,874 643,876 639,870 C637,856 636,838 632,819Z" fill="#06041a" filter="url(#mb1)"/>
<ellipse cx="582" cy="860" rx="5" ry="3.2" fill="#06041a" filter="url(#mb1)"/>
<circle cx="418.9" cy="878.8" r="6" stroke="#3420ff" stroke-width="4" fill="#06041a" filter="url(#mb1)"/><circle cx="419.5" cy="880" r="1.3" fill="#8080ff"/>
<ellipse cx="648" cy="897" rx="26" ry="32" fill="#c02a8a" opacity="0.5" filter="url(#mb4)"/>
<g filter="url(#pinkf)">
<path d="M635.3,872 C638,870.5 640,870 641.6,869.9 C646,869 650,868.8 654.3,868.9 C658,869.5 661,871 663.8,873.1 C664.5,876 664.6,879 664.9,882.6 C666.5,885 668,888 669.1,891.1 C668.8,894 668,897 667,899.6 C665,902 663,904 660.7,905.9 C658.5,909 657,913 655.4,916.5 C653,919.5 650.5,922.5 648,925 C645,924.5 642,923.8 639.5,922.8 C637,920 635,917 633.1,914.4 C631,911.5 629.5,908.5 627.8,905.9 C627.6,901.5 628,897 628.9,893.2 C630,889.5 631.5,886 633.1,882.6 C633.8,878.5 634.3,875 635.3,872Z" fill="#f4306c"/>
</g>
<path d="M540,949 C565,947 590,942 630,931" stroke="#c0309a" stroke-width="3" fill="none" filter="url(#mb1)" opacity="0.75"/>
<text x="414.4" y="910.8" font-size="10.6" fill="#fff">OTam</text>
<text x="648.8" y="936.4" font-size="10.4" fill="#fff">OTal</text>
<text x="645.9" y="950" font-size="6.5" fill="#fff">500 μm</text>
<rect x="637.1" y="953.2" width="41.7" height="2" fill="#fff"/>
</svg>
</svg>
</body></html>
